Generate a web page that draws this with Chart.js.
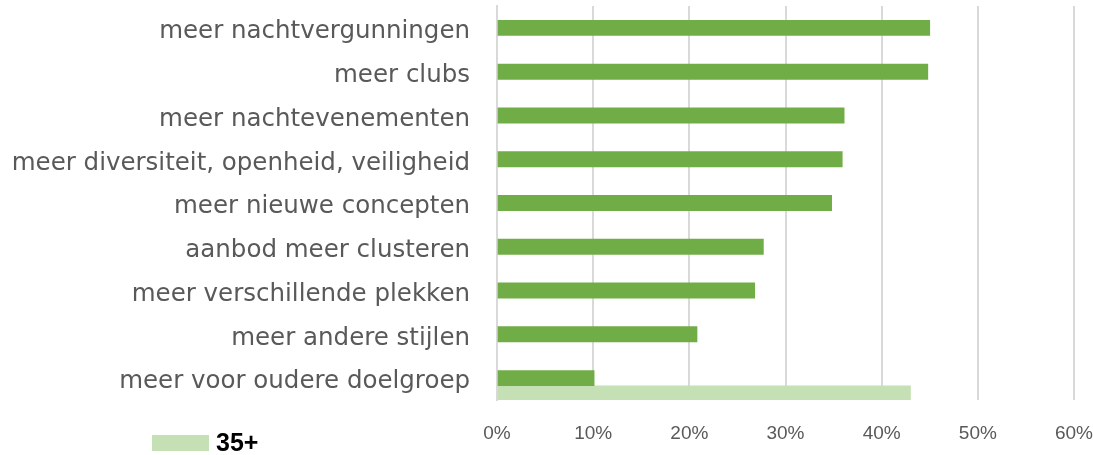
<!DOCTYPE html>
<html>
<head>
<meta charset="utf-8">
<script src="https://cdn.jsdelivr.net/npm/chart.js@4"></script>
<style>
  body { margin: 0; background: #fff; }
  #wrap { position: relative; width: 1093px; height: 455px; }
  #legend { position: absolute; left: 152px; top: 428px; display: flex; align-items: center; }
  #legend .box { width: 57px; height: 16px; margin-right: 7px; }
  #legend .txt { font-family: "Liberation Sans Narrow", "Liberation Sans", sans-serif; font-weight: bold; font-size: 25px; color: #000; }
</style>
</head>
<body>
<div id="wrap">
  <canvas id="wensenChart" width="1093" height="455"></canvas>
  <div id="legend"></div>
</div>
<script>
const categories = [
    'meer nachtvergunningen',
    'meer clubs',
    'meer nachtevenementen',
    'meer diversiteit, openheid, veiligheid',
    'meer nieuwe concepten',
    'aanbod meer clusteren',
    'meer verschillende plekken',
    'meer andere stijlen',
    'meer voor oudere doelgroep'
];
// percentages
const youngerValues = [45.0, 44.8, 36.1, 35.9, 34.8, 27.7, 26.8, 20.8, 10.1];
const olderValues = [null, null, null, null, null, null, null, null, 43.0];
const xTicks = [0, 10, 20, 30, 40, 50, 60];

const darkGreen = '#70ad47';
const lightGreen = '#c5e0b4';

const ctx = document.getElementById('wensenChart').getContext('2d');
const wensenChart = new Chart(ctx, {
    type: 'bar',
    data: {
        labels: categories,
        datasets: [{
            // empty slot so the dark bar sits on the label and 35+ below it
            label: '',
            data: categories.map(() => null)
        }, {
            label: '<35',
            data: youngerValues,
            backgroundColor: darkGreen
        }, {
            label: '35+',
            data: olderValues,
            backgroundColor: lightGreen
        }]
    },
    options: {
        indexAxis: 'y',
        responsive: false,
        animation: false,
        devicePixelRatio: 1,
        datasets: {
            bar: { barThickness: 15.3 }
        },
        layout: {
            padding: { left: 0, right: 19, top: 6, bottom: 0 }
        },
        plugins: {
            legend: { display: false },
            tooltip: { enabled: false }
        },
        scales: {
            x: {
                min: xTicks[0],
                max: xTicks[xTicks.length - 1],
                afterBuildTicks: s => { s.ticks = xTicks.map(v => ({ value: v })); },
                afterFit: s => {
                    s.height = 55;
                    s.paddingLeft = 0;
                    s.paddingRight = 0;
                },
                grid: {
                    color: '#d9d9d9',
                    lineWidth: 2,
                    drawTicks: false
                },
                border: { display: false },
                ticks: {
                    color: '#595959',
                    padding: 22,
                    font: { family: '"Liberation Sans", Arial, sans-serif', size: 19 },
                    callback: v => v + '%'
                }
            },
            y: {
                afterFit: s => {
                    s.width = 497;
                    s.paddingTop = 0;
                    s.paddingBottom = 0;
                },
                grid: { display: false, drawTicks: false },
                border: { display: true, color: '#d9d9d9', width: 2 },
                ticks: {
                    color: '#595959',
                    padding: 27,
                    labelOffset: 4,
                    font: { family: '"DejaVu Sans", sans-serif', size: 24.5 }
                }
            }
        }
    }
});

// legend entry for 35+ only, like the reference
const legendEl = document.getElementById('legend');
const older = wensenChart.data.datasets[2];
legendEl.innerHTML = '<div class="box" style="background:' + older.backgroundColor + '"></div>' +
    '<span class="txt">' + older.label + '</span>';
</script>
</body>
</html>
